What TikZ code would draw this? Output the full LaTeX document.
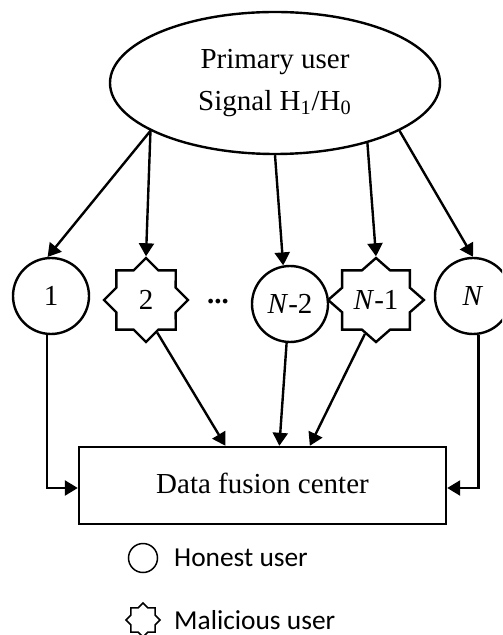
\documentclass[tikz,border=0pt]{standalone}
\usepackage{fontspec}
\setmainfont{Liberation Serif}
\newfontfamily\legendfont{Carlito}
\usetikzlibrary{shapes.geometric}
\usetikzlibrary{arrows.meta}

\begin{document}
\begin{tikzpicture}[x=0.5pt,y=-0.5pt,line width=1.2pt,font=\fontsize{14.5}{21}\selectfont,
honest/.style={circle,draw,minimum size=38pt,inner sep=0pt},
malicious/.style={star,star points=8,star point ratio=1.307,draw,minimum size=42pt,inner sep=0pt},
link/.style={-{Triangle[length=6.5pt,width=7.5pt]}},
legendtext/.style={anchor=west,inner sep=0pt,font=\legendfont\fontsize{13.7}{16}\selectfont}]
\useasboundingbox (0,0) rectangle (502,635);
\clip (0,0) rectangle (502,635);
\node[ellipse,draw,minimum width=165pt,minimum height=71pt,align=center] (pu) at (275,83) {Primary user\\Signal H\textsubscript{1}/H\textsubscript{0}};
\node[honest] (u1) at (51,296) {1};
\node[malicious] (u2) at (146,300) {\raisebox{-3pt}{2}};
\node[anchor=base,font=\fontsize{14.5}{21}\selectfont\bfseries] (dots) at (218,304) {...};
\node[honest] (u3) at (290,304) {\textit{N}-2};
\begin{scope}[shift={(376,300)},xscale=1.14]
\node[malicious,transform shape] (u4) at (0,0) {\scalebox{0.877}[1]{\textit{N}-1}};
\end{scope}
\node[honest] (u5) at (473,296) {\textit{N}};
\node[draw,minimum width=183.5pt,minimum height=38.5pt] (dfc) at (262.5,485.5) {\raisebox{2.5pt}{Data fusion center}};
\draw[link] (pu.201) -- (u1.95);
\draw[link] (pu.201) -- (u2.north);
\draw[link] (pu.south) -- (u3.100);
\draw[link] (pu.-33) -- (u4.north);
\draw[link] (pu.-21) -- (u5.north);
\draw[link] (u1.264) |- ([yshift=-1.25pt]dfc.west);
\draw[link] (u2.-71) -- (dfc.133);
\draw[link] (u3.265) -- (dfc.67);
\draw[link] (u4.-106) -- (dfc.40);
\draw[link] (u5.-82) |- ([yshift=-1.25pt]dfc.east);
\node[honest,minimum size=14.5pt,line width=0.75pt] (lh) at (143,558) {};
\node[legendtext] (lht) at (173,558) {Honest user};
\node[malicious,minimum size=17pt,line width=0.75pt] (lm) at (143,620) {};
\node[legendtext] (lmt) at (173,620) {Malicious user};
\end{tikzpicture}
\end{document}
